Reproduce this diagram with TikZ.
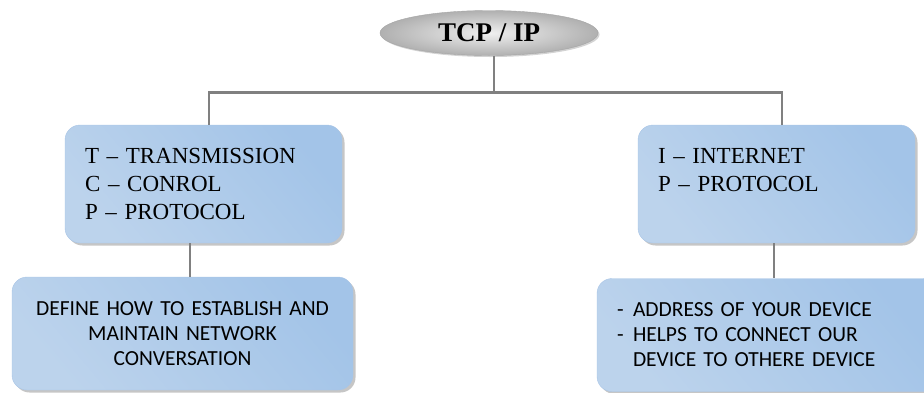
\documentclass[tikz,border=0pt]{standalone}
\usepackage{fontspec}
\setmainfont{Liberation Serif}
\newfontfamily\calibri{Carlito}
\usepackage{tikz}
\usetikzlibrary{positioning,shapes.geometric,shadows}

\definecolor{boxdark}{HTML}{A3C4E8}
\definecolor{boxlight}{HTML}{E8EFF8}
\definecolor{boxlow}{HTML}{BCD3EC}
\definecolor{boxline}{HTML}{A9C5E6}
\definecolor{linegray}{HTML}{808080}

\begin{document}
\begin{tikzpicture}[
x=1pt, y=-1pt,
ovalnode/.style={ellipse, draw=gray!70, inner sep=0pt, minimum width=218pt, minimum height=45pt,
  inner color=gray!12, outer color=gray!62,
  drop shadow={shadow xshift=1.5pt, shadow yshift=-1.5pt, opacity=0.35},
  font=\fontsize{27}{30}\selectfont\bfseries},
bluebox/.style={rectangle, rounded corners=15pt, draw=boxline, thin,
  top color=boxdark, middle color=boxlight, bottom color=boxlow, shading angle=-50,
  drop shadow={shadow xshift=2.5pt, shadow yshift=-2.5pt, opacity=0.45}},
headbox/.style={bluebox, minimum width=277pt, minimum height=118pt, inner xsep=20pt,
  text width=237pt, align=left, font=\fontsize{23}{28}\selectfont},
descbox/.style={bluebox, minimum width=341pt, minimum height=113pt, inner xsep=20pt,
  text width=301pt, font=\calibri\fontsize{21.5}{25}\selectfont},
conn/.style={draw=linegray, line width=2.6pt},
]
\useasboundingbox (0,0) rectangle (924,392);

%Nodes
\node[ovalnode] (tcp)     at (489,33)      {TCP / IP};
\node[headbox]  (tcpbox)  at (203.5,184)   {T -- TRANSMISSION\\C -- CONROL\\P -- PROTOCOL};
\node[headbox]  (ipbox)   at (776.5,184)   {I -- INTERNET\\P -- PROTOCOL\\\mbox{}};
\node[descbox, align=center] (tcpdesc) at (182.5,333.5)
  {DEFINE HOW TO ESTABLISH AND\\MAINTAIN NETWORK\\CONVERSATION};
\node[descbox, align=left]   (ipdesc)  at (767.5,335)
  {\makebox[16pt][l]{-}ADDRESS OF YOUR DEVICE\\\makebox[16pt][l]{-}HELPS TO CONNECT OUR\\\hspace*{16pt}DEVICE TO OTHERE DEVICE};

%Lines
\draw[conn] ([xshift=5pt]tcp.south) -- ++(0,37) coordinate (bus);
\draw[conn] (bus) -| ([xshift=5.5pt]tcpbox.north);
\draw[conn] (bus) -| ([xshift=5.5pt]ipbox.north);
\draw[conn] ([xshift=-13.5pt]tcpbox.south) -- ([xshift=7.5pt]tcpdesc.north);
\draw[conn] ([xshift=-2.5pt]ipbox.south) -- ([xshift=6.5pt]ipdesc.north);
\end{tikzpicture}
\end{document}
